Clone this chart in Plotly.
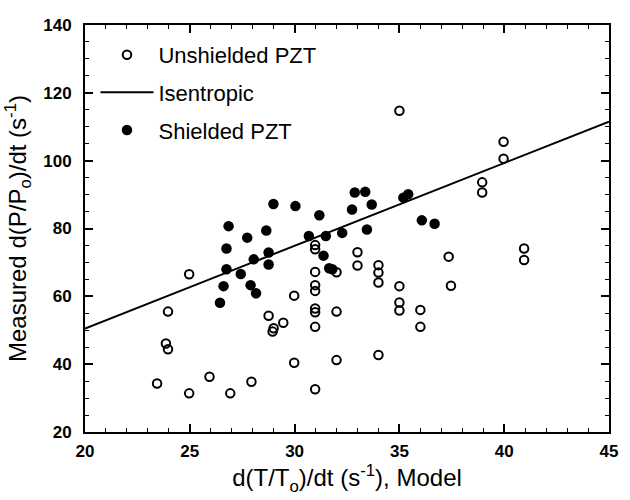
import plotly.graph_objects as go

# Unshielded PZT (open circles)
unshielded_x = [24.97, 23.96, 23.86, 23.96, 23.44, 24.97, 25.94, 26.93, 27.94, 28.76,
                29.00, 28.95, 29.46, 29.98, 29.98, 30.98, 30.98, 30.98, 30.98, 30.98,
                30.98, 30.98, 30.98, 30.98, 32.0, 32.0, 32.0, 33.0, 33.0, 34.0,
                34.0, 34.0, 34.0, 35.0, 35.0, 35.0, 35.0, 36.0, 36.0, 37.35,
                37.46, 38.95, 38.95, 39.97, 39.97, 40.95, 40.95]
unshielded_y = [66.5, 55.5, 46.1, 44.4, 34.3, 31.4, 36.3, 31.4, 34.8, 54.3,
                50.6, 49.6, 52.2, 60.2, 40.4, 75.1, 73.9, 67.2, 63.3, 61.6,
                56.4, 55.3, 51.0, 32.6, 67.1, 55.5, 41.2, 73.0, 69.1, 69.2,
                67.0, 64.1, 42.7, 114.7, 63.0, 58.2, 55.8, 56.0, 51.0, 71.7,
                63.1, 93.6, 90.6, 105.6, 100.6, 74.1, 70.7]

# Shielded PZT (filled circles)
shielded_x = [26.85, 26.75, 26.75, 26.61, 26.44, 27.74, 27.43, 28.05, 27.90, 28.16,
              28.65, 28.76, 28.76, 28.99, 30.04, 30.68, 31.18, 31.49, 31.38, 31.65,
              31.80, 32.27, 32.74, 32.87, 33.37, 33.68, 33.45, 35.19, 35.42, 36.07,
              36.68]
shielded_y = [80.7, 74.1, 68.0, 63.0, 58.1, 77.3, 66.6, 70.9, 63.3, 60.9,
              79.4, 72.9, 69.4, 87.2, 86.6, 77.8, 83.9, 77.8, 72.0, 68.3,
              68.0, 78.7, 85.6, 90.6, 90.8, 87.1, 79.7, 89.1, 90.1, 82.4,
              81.4]

# Isentropic line
isentropic_x = [20, 45]
isentropic_y = [50.5, 111.5]

FONT = "Arial, Liberation Sans, sans-serif"

fig = go.Figure()
fig.add_trace(go.Scatter(
    x=unshielded_x, y=unshielded_y, mode="markers", name="Unshielded PZT",
    marker=dict(symbol="circle-open", size=8.5, color="black", line=dict(width=2, color="black")),
    legendrank=1, legendgroup="a"))
fig.add_trace(go.Scatter(
    x=isentropic_x, y=isentropic_y, mode="lines", name="Isentropic",
    line=dict(color="black", width=2), legendrank=2, legendgroup="b"))
fig.add_trace(go.Scatter(
    x=shielded_x, y=shielded_y, mode="markers", name="Shielded PZT",
    marker=dict(symbol="circle", size=10.5, color="black"),
    legendrank=3, legendgroup="c"))

axis_common = dict(
    showline=True, linecolor="black", linewidth=2, mirror="ticks",
    ticks="inside", ticklen=8, tickwidth=1.5, tickcolor="black",
    showgrid=False, zeroline=False,
    tickfont=dict(family=FONT, size=17, color="black", weight="bold"),
    title_font=dict(family=FONT, size=24, color="black"),
)

fig.update_xaxes(
    range=[20, 45], tick0=20, dtick=5,
    minor=dict(ticks="inside", ticklen=4, tickwidth=1.2, dtick=1, tickcolor="black", showgrid=False),
    title_text="d(T/T<sub>o</sub>)/dt (s<sup>-1</sup>), Model", title_standoff=0,
    ticklabelstandoff=3,
    **axis_common)
fig.update_yaxes(
    range=[20, 140], tick0=20, dtick=20,
    minor=dict(ticks="inside", ticklen=4, tickwidth=1.2, dtick=5, tickcolor="black", showgrid=False),
    title_text="Measured d(P/P<sub>o</sub>)/dt (s<sup>-1</sup>)", title_standoff=10,
    ticklabelstandoff=8,
    **axis_common)

fig.update_layout(
    width=630, height=500,
    margin=dict(l=85, r=12, t=25, b=68),
    plot_bgcolor="white", paper_bgcolor="white",
    font=dict(family=FONT, color="black"),
    showlegend=True,
    legend=dict(x=0.02, y=0.978, xanchor="left", yanchor="top",
                font=dict(family=FONT, size=22, color="black"),
                bgcolor="rgba(0,0,0,0)", itemwidth=53, tracegroupgap=6,
                traceorder="grouped"),
)

fig.write_html("out.html")
